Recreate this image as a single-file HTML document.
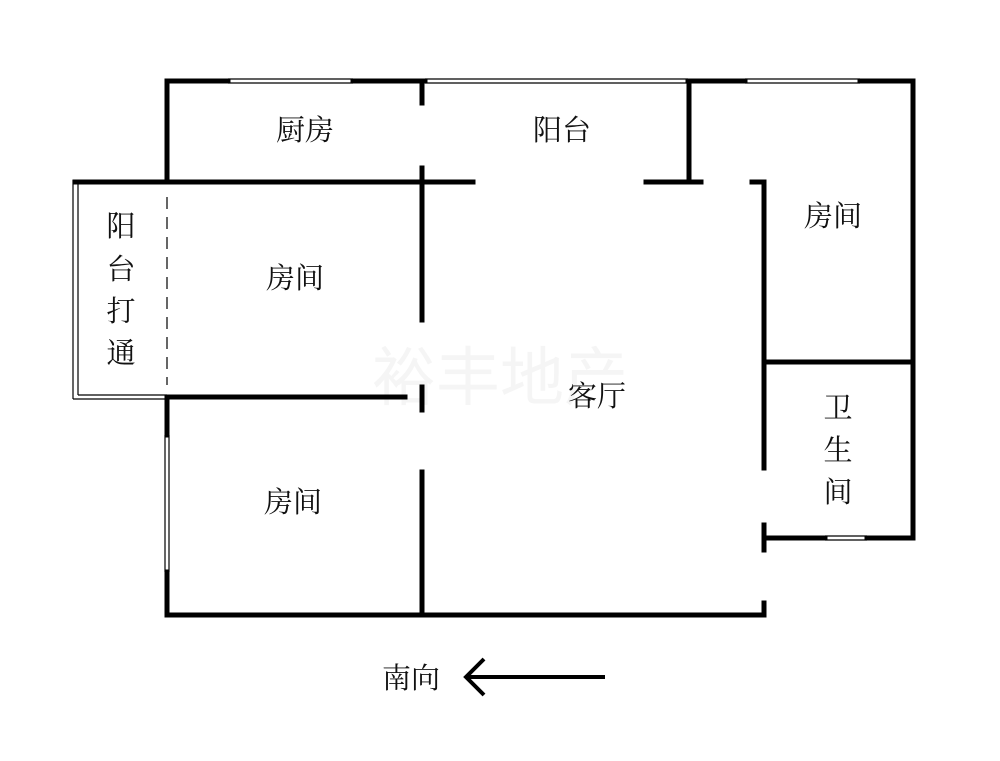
<!DOCTYPE html>
<html><head><meta charset="utf-8"><style>
body{margin:0;background:#fff;}
svg text{font-family:"Liberation Serif","Noto Serif CJK SC",serif;font-size:29px;fill:#111;text-anchor:middle;dominant-baseline:central;}
</style></head><body>
<svg width="1000" height="756" viewBox="0 0 1000 756" xmlns="http://www.w3.org/2000/svg">
<rect width="1000" height="756" fill="#fff"/>
<text x="500" y="373" style="font-size:64px;fill:#f5f5f5;font-family:'Noto Sans CJK SC',sans-serif">裕丰地产</text>
<g stroke="#000" stroke-width="5" fill="none" stroke-linecap="square">
<line x1="167" y1="81" x2="228" y2="81"/>
<line x1="353" y1="81" x2="425" y2="81"/>
<line x1="688" y1="81" x2="745" y2="81"/>
<line x1="860" y1="81" x2="913" y2="81"/>
<line x1="167" y1="81" x2="167" y2="182"/>
<line x1="422" y1="81" x2="422" y2="103"/>
<line x1="422" y1="168" x2="422" y2="320"/>
<line x1="422" y1="387" x2="422" y2="410"/>
<line x1="422" y1="472" x2="422" y2="615"/>
<line x1="75" y1="182" x2="473" y2="182"/>
<line x1="689" y1="81" x2="689" y2="182"/>
<line x1="646" y1="182" x2="701" y2="182"/>
<line x1="752" y1="182" x2="764" y2="182"/>
<line x1="764" y1="182" x2="764" y2="468"/>
<line x1="913" y1="81" x2="913" y2="538"/>
<line x1="764" y1="362" x2="913" y2="362"/>
<line x1="764" y1="525" x2="764" y2="550"/>
<line x1="764" y1="538" x2="825" y2="538"/>
<line x1="867" y1="538" x2="913" y2="538"/>
<line x1="167" y1="397" x2="405" y2="397"/>
<line x1="167" y1="397" x2="167" y2="435"/>
<line x1="167" y1="572" x2="167" y2="615"/>
<line x1="167" y1="615" x2="764" y2="615"/>
<line x1="764" y1="603" x2="764" y2="615"/>
</g>
<g stroke="#000" stroke-width="1.2" fill="none">
<line x1="228" y1="79" x2="353" y2="79"/><line x1="228" y1="83" x2="353" y2="83"/>
<line x1="425" y1="79" x2="688" y2="79"/><line x1="425" y1="83" x2="688" y2="83"/>
<line x1="745" y1="79" x2="860" y2="79"/><line x1="745" y1="83" x2="860" y2="83"/>
<line x1="825" y1="536" x2="867" y2="536"/><line x1="825" y1="540" x2="867" y2="540"/>
<line x1="73" y1="180" x2="73" y2="399"/><line x1="78" y1="184" x2="78" y2="395"/>
<line x1="73" y1="399" x2="167" y2="399"/><line x1="78" y1="395" x2="167" y2="395"/>
<line x1="165" y1="435" x2="165" y2="572"/><line x1="169" y1="435" x2="169" y2="572"/>
<line x1="167" y1="197" x2="167" y2="385" stroke-dasharray="12,8"/>
</g>
<text x="305" y="131">厨房</text>
<text x="562" y="131">阳台</text>
<text x="295" y="279">房间</text>
<text x="833" y="217">房间</text>
<text x="597" y="397">客厅</text>
<text x="293" y="503">房间</text>
<text x="838" y="409">卫</text>
<text x="838" y="451">生</text>
<text x="838" y="493">间</text>
<text x="121" y="227">阳</text>
<text x="121" y="270">台</text>
<text x="121" y="312">打</text>
<text x="121" y="354">通</text>
<text x="411" y="679">南向</text>
<g stroke="#000" stroke-width="4" fill="none">
<line x1="468" y1="677" x2="605" y2="677"/>
<polyline points="484,659 466,677 484,695"/>
</g>
</svg>
</body></html>
